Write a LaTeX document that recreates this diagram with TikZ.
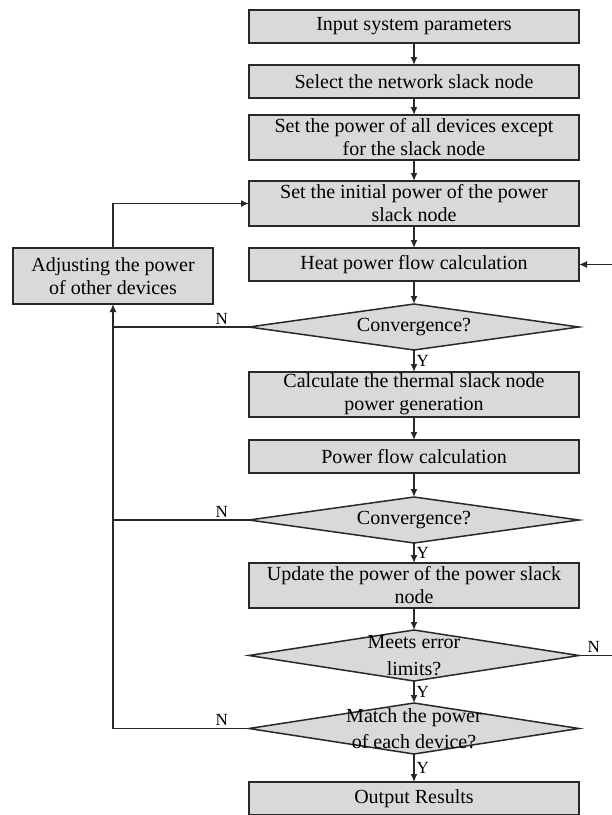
\documentclass[tikz,border=0pt]{standalone}
\usepackage{fontspec}
\setmainfont{Liberation Serif}
\usetikzlibrary{arrows.meta,positioning,shapes.geometric}
\definecolor{boxgray}{RGB}{217,217,217}
\definecolor{linegray}{RGB}{40,40,40}

\begin{document}
\begin{tikzpicture}[
    x=1pt, y=-1pt,
    font=\fontsize{20}{23}\selectfont,
    box/.style={draw=linegray, fill=boxgray, line width=1.5pt, align=center,
      inner sep=1pt, outer sep=0pt, minimum width=330pt, minimum height=33pt},
    tallbox/.style={box, minimum height=45pt},
    dec/.style={diamond, draw=linegray, fill=boxgray, line width=1.5pt,
      inner sep=0pt, outer sep=0pt, minimum width=330pt, minimum height=46pt},
    arr/.style={-{Latex[length=8pt,width=7pt]}, line width=1.4pt, draw=linegray},
    ln/.style={line width=1.4pt, draw=linegray},
    yn/.style={font=\fontsize{17}{18}\selectfont, inner sep=2pt},
  ]
    \useasboundingbox (0,0) rectangle (612,815);

    % --- main column ---
    \node[box] (inp) at (414,26.5) {Input system parameters};
    \node[box, below=22pt of inp] (sel) {Select the network slack node};
    \node[tallbox, below=17pt of sel] (devs)
      {Set the power of all devices except\\for the slack node};
    \node[tallbox, below=21pt of devs] (init)
      {Set the initial power of the power\\slack node};
    \node[box, below=22pt of init] (heat) {Heat power flow calculation};
    \node[dec, below=23pt of heat, label={center:Convergence?}] (conv1) {};
    \node[tallbox, below=22pt of conv1] (therm)
      {Calculate the thermal slack node\\power generation};
    \node[box, below=23pt of therm] (pflow) {Power flow calculation};
    \node[dec, below=24pt of pflow, label={center:Convergence?}] (conv2) {};
    \node[tallbox, below=20pt of conv2] (upd)
      {Update the power of the power slack\\node};
    \node[dec, minimum height=51pt, below=22pt of upd,
      label={[align=center, font=\fontsize{20}{27}\selectfont]center:{Meets error\\limits?}}] (err) {};
    \node[dec, minimum height=51pt, below=22pt of err,
      label={[align=center, font=\fontsize{20}{26}\selectfont]center:{Match the power\\of each device?}}] (match) {};
    \node[box, below=28pt of match] (out) {Output Results};

    % --- side box ---
    \node[box, minimum width=200pt, minimum height=56pt] (adj) at (113,276)
      {Adjusting the power\\of other devices};
    \coordinate (edge) at (612,0);

    \draw[arr] (inp) -- (sel);
    \draw[arr] (sel) -- (devs);
    \draw[arr] (devs) -- (init);
    \draw[arr] (init) -- (heat);
    \draw[arr] (heat) -- (conv1);
    \draw[arr] (conv1) -- node[yn, right] {Y} (therm);
    \draw[arr] (therm) -- (pflow);
    \draw[arr] (pflow) -- (conv2);
    \draw[arr] (conv2) -- node[yn, right] {Y} (upd);
    \draw[arr] (upd) -- (err);
    \draw[arr] (err) -- node[yn, right] {Y} (match);
    \draw[arr] (match) -- node[yn, right] {Y} (out);

    % N branches back to the side box
    \draw[arr] (conv1.west) -- node[yn, above, pos=0.2] {N}
      (adj.south |- conv1.west) -- (adj.south);
    \draw[ln] (conv2.west) -- node[yn, above, pos=0.2] {N}
      (adj.south |- conv2.west);
    \draw[ln] (match.west) -- node[yn, above, pos=0.2] {N}
      (adj.south |- match.west) -- (adj.south |- conv1.west);
    \draw[arr] (adj.north) -- (adj.north |- init.west) -- (init.west);

    % loop on the right edge
    \draw[ln] (err.east) -- node[yn, above, pos=0.45] {N} (edge |- err.east);
    \draw[arr] (edge |- heat.east) -- (heat.east);
  \end{tikzpicture}
\end{document}
